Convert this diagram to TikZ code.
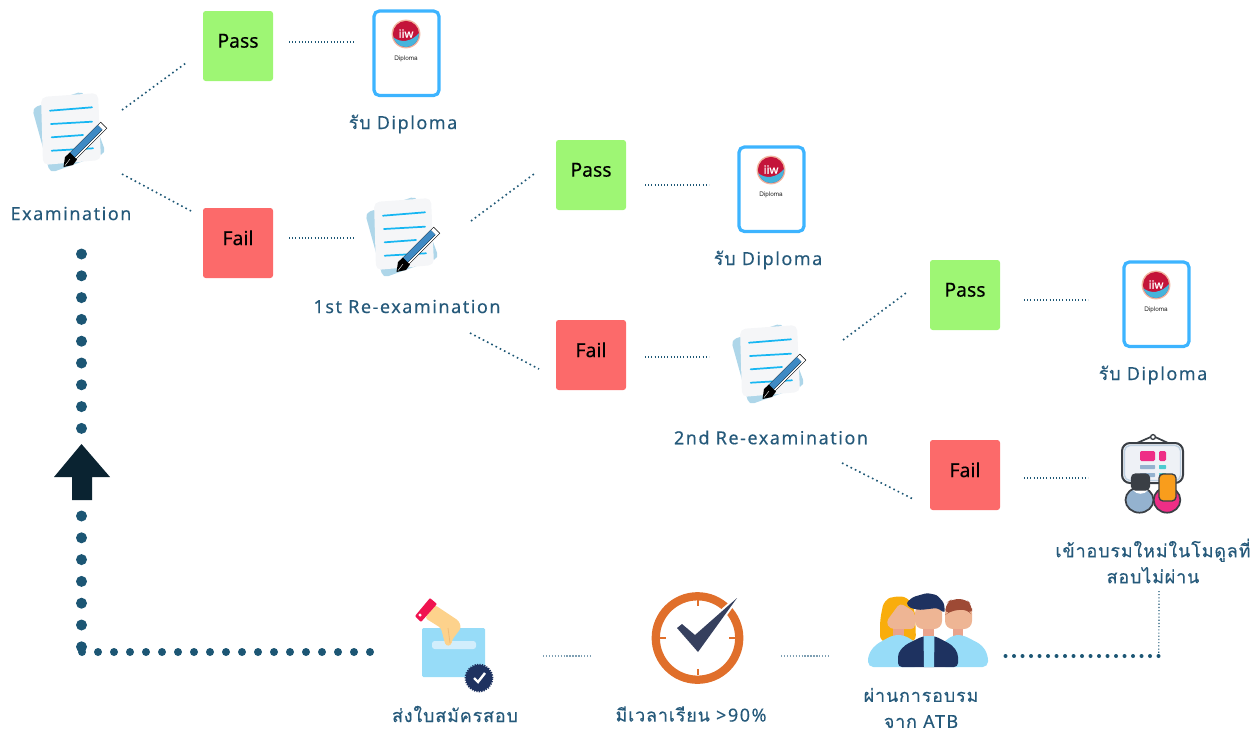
\documentclass[tikz,border=0pt]{standalone}
\usepackage{fontspec}
\newfontfamily\lomafont[Script=Thai]{Loma}
\newfontfamily\thaicap[Script=Thai,LetterSpace=4.5,FakeBold=0.35]{Loma}
\newfontfamily\latincap[LetterSpace=8.5,FakeBold=0.2]{Noto Sans}
\newfontfamily\boxfont[FakeBold=0.3]{Noto Sans}
\newfontfamily\logofont[FakeBold=1.2]{Noto Sans}
\setmainfont{Noto Sans}
\newcommand{\thaitxt}[1]{{\thaicap #1}}
\definecolor{labelblue}{HTML}{25597A}
\definecolor{dotblue}{HTML}{1C5674}
\definecolor{greyline}{HTML}{7E9FB3}
\definecolor{passgreen}{HTML}{9EF674}
\definecolor{failred}{HTML}{FC6A6A}
\definecolor{arrowdark}{HTML}{0A2331}
\definecolor{paperback}{HTML}{AED6E9}
\definecolor{paperfront}{HTML}{F5F6F8}
\definecolor{lineblue}{HTML}{16B6F2}
\definecolor{penblue}{HTML}{3F8AC4}
\definecolor{dipblue}{HTML}{3DB4FF}
\definecolor{navy}{HTML}{1E3260}
\definecolor{skyfill}{HTML}{97DCF8}
\definecolor{slotfill}{HTML}{D2EEFC}
\definecolor{handskin}{HTML}{FDD28C}
\definecolor{handshade}{HTML}{F0BC78}
\definecolor{cuffred}{HTML}{F0134F}
\definecolor{clockor}{HTML}{E06F2B}
\definecolor{checkdark}{HTML}{36405E}
\definecolor{skin}{HTML}{EEB594}
\definecolor{neck}{HTML}{E9A38C}
\definecolor{hairy}{HTML}{F9AD0C}
\definecolor{hairbr}{HTML}{9E4A35}
\definecolor{boardline}{HTML}{3A3F45}
\definecolor{boardfill}{HTML}{EEF1F6}
\definecolor{pinkm}{HTML}{EE2E86}
\definecolor{barblue}{HTML}{94B2CF}
\definecolor{tealm}{HTML}{4CCBD0}
\definecolor{orangem}{HTML}{F99D1C}
\definecolor{logored}{HTML}{C4143A}
\definecolor{logoblue}{HTML}{45B4DC}
\definecolor{logoring}{HTML}{F2B6A0}
\tikzset{
  resultbox/.style={minimum width=52.5pt,minimum height=52.5pt,rounded corners=2pt,inner sep=0pt},
  passbox/.style={resultbox,fill=passgreen},
  failbox/.style={resultbox,fill=failred},
  boxtext/.style={label={[yshift=3.9pt,font=\boxfont\fontsize{14.5}{16}\selectfont,text=black]center:#1}},
  caption/.style={font=\latincap\fontsize{13.5}{19.5}\selectfont,text=labelblue,align=center,inner sep=0pt},
  thindots/.style={dotblue,line width=.9pt,dash pattern=on .8pt off 1.6pt},
  diagdots/.style={dotblue,line width=1.2pt,dash pattern=on 1.2pt off 2.4pt},
  greydots/.style={greyline,line width=1pt,dash pattern=on 1pt off 1.2pt},
  bigdots/.style={dotblue,line width=8.25pt,line cap=round,dash pattern=on 0pt off 16.35pt},
  middots/.style={dotblue,line width=6pt,line cap=round,dash pattern=on 0pt off 12pt},
  smalldots/.style={dotblue,line width=3pt,line cap=round,dash pattern=on 0pt off 6.375pt},
  examicon/.pic={
    \fill[paperback,rounded corners=4pt] (83,91)--(32,108)--(50,173)--(106,153)--cycle;
    \fill[paperfront,rounded corners=4pt] (41,97)--(98,93)--(101,160)--(43,165)--cycle;
    \foreach \a/\b/\c/\d in {50/110.7/92/107.3,51/124/92/121.7,51.7/137.3/83/135,51.7/150.7/93/148.3}
      \draw[lineblue,line width=1.3pt,line cap=round] (\a,\b)--(\c,\d);
    \draw[black,line width=6.8pt] (72,157)--(104,125);
    \draw[white,line width=6pt] (72,157)--(103.5,125.5);
    \draw[black,line width=5.2pt] (71.2,156.2)--(100,127.4);
    \draw[penblue,line width=4.8pt] (71.2,156.2)--(100,127.4);
    \fill[black] (63.5,167)--(65,157)--(70,152.5)--(77,159.5)--(73,165)--cycle;
    \draw[white,line width=.3pt] (65,165.5)--(70,159);
  },
  diplomaicon/.pic={
    \draw[dipblue,line width=2.4pt,fill=white,rounded corners=4pt] (374,11) rectangle (439,95.5);
    \fill[logoring] (406,34) circle (10.8pt);
    \fill[logored] (406,34) circle (9.8pt);
    \begin{scope}
      \clip (392,36) .. controls (400,44) and (412,42) .. (420,32) -- (421,50) -- (391,50) -- cycle;
      \fill[logoblue] (406,34) circle (9.8pt);
    \end{scope}
    \node[font=\logofont\fontsize{8.5}{9}\selectfont,text=white,inner sep=0pt] at (406,33.5) {iiw};
    \node[font=\lomafont\fontsize{4.8}{5}\selectfont,text=black!85,inner sep=0pt] at (406,58.5) {Diploma};
  }
}
\begin{document}
\begin{tikzpicture}[x=0.75pt,y=-0.75pt]
\useasboundingbox (0,0) rectangle (1260,733);
% boxes
\node[passbox,boxtext=Pass] (pass1) at (238,46) {};
\node[failbox,boxtext=Fail] (fail1) at (238,243) {};
\node[passbox,boxtext=Pass] (pass2) at (591,175) {};
\node[failbox,boxtext=Fail] (fail2) at (591,355) {};
\node[passbox,boxtext=Pass] (pass3) at (965,295) {};
\node[failbox,boxtext=Fail] (fail3) at (965,475) {};
% icons
\pic (exam0) at (0,0) {examicon};
\pic (exam1) at (333,105) {examicon};
\pic (exam2) at (699,232) {examicon};
\pic (dip1) at (0,0) {diplomaicon};
\pic (dip2) at (365,136) {diplomaicon};
\pic (dip3) at (750,251) {diplomaicon};
% training icon
\draw[boardline,line width=1.3pt] (1137,443)--(1153,436)--(1168,443);
\draw[boardline,line width=1pt,fill=white] (1153,437) circle (1.8pt);
\draw[boardline,line width=1.5pt,fill=boardfill,rounded corners=6pt] (1122,443) rectangle (1183,483);
\draw[barblue!60!white,line width=1pt,rounded corners=4pt] (1124.5,445.5) rectangle (1180.5,480.5);
\fill[pinkm,rounded corners=1pt] (1140,451) rectangle (1155,461);
\fill[pinkm,rounded corners=1pt] (1159,451) rectangle (1166,461);
\fill[barblue,rounded corners=.5pt] (1140,465) rectangle (1155,469);
\fill[tealm,rounded corners=.5pt] (1159,465) rectangle (1166,469);
\fill[barblue,rounded corners=.5pt] (1140,473) rectangle (1155,477);
\fill[tealm,rounded corners=.5pt] (1159,473) rectangle (1166,477);
\draw[boardline,line width=1.3pt,fill=barblue] (1139.5,500) ellipse (10.5pt and 9.5pt);
\draw[boardline,line width=1.3pt,fill=pinkm] (1167,500) ellipse (10pt and 9.5pt);
\fill[white] (1133,490) .. controls (1136,495) and (1145,495) .. (1148,490) -- cycle;
\draw[boardline,line width=1pt,fill=boardline,rounded corners=3pt] (1131.5,474) rectangle (1149.5,490);
\draw[boardline,line width=1pt,fill=orangem,rounded corners=3pt] (1159,474) rectangle (1176,501);
% hand icon
\fill[skyfill,rounded corners=1pt] (422,628) rectangle (485,677);
\fill[slotfill,rounded corners=2pt] (432,641) rectangle (476,649);
\fill[handskin,rounded corners=2pt] (425,618)--(435,605)--(459,621)--(461,628)--(452,640)--(451.5,645)--(446,646)--(444,640)--(441,628)--cycle;
\draw[handshade,line width=.6pt] (448,628)--(450,643);
\fill[cuffred,rounded corners=.7pt] (430,598)--(437,604)--(421,622)--(415,616)--cycle;
\fill[white] (420,615) circle (1.3pt);
\draw[navy,line width=1.5pt,dash pattern=on .9pt off .9pt,fill=navy] (479,678) circle (10pt);
\draw[white,line width=1.8pt] (474,678)--(478,682)--(485,673);
% clock
\draw[clockor,line width=6.2pt] (697.5,638) circle (31.3pt);
\foreach \a/\b/\c/\d in {697.5/600/697.5/606,697.5/669/697.5/675,660/638/666/638,729/638/735/638}
  \draw[clockor,line width=1.5pt] (\a,\b)--(\c,\d);
\draw[white,line width=3pt] (695,635)--(737,598)--(698,652);
\fill[checkdark] (677,628)--(682,624)--(695,635)--(737,598)--(698,652)--cycle;
% people icon
\fill[hairy,rounded corners=5pt] (880,642)--(880,620)--(884,600)--(895,596)--(908,597)--(915,610)--(916,642)--cycle;
\fill[skin,rounded corners=3pt] (886,622)--(900,603)--(915,612)--(915,629)--(890,629)--cycle;
\fill[neck] (893,629) rectangle (904,636);
\fill[skyfill,rounded corners=4pt] (868,667)--(868,655)--(875,645)--(893,635)--(904,635)--(920,645)--(920,667)--cycle;
\fill[skin,rounded corners=6pt] (945,605) rectangle (972,629);
\fill[hairbr,rounded corners=5pt] (945,615)--(946,603)--(952,599)--(966,599)--(972,605)--(972,615)--(967,609)--(950,611)--cycle;
\fill[neck] (953,629) rectangle (963,636);
\fill[skyfill,rounded corners=4pt] (988,667)--(988,655)--(982,645)--(963,635)--(953,635)--(940,645)--(940,667)--cycle;
\fill[navy,rounded corners=3pt] (898,667)--(898,653)--(905,645)--(923,636)--(935,636)--(952,645)--(958,653)--(958,667)--cycle;
\fill[skyfill] (923.5,636)--(934.5,636)--(934,667)--(924,667)--cycle;
\fill[neck] (923,629) rectangle (934,636);
\fill[skin,rounded corners=6pt] (915,605) rectangle (942,629);
\fill[navy,rounded corners=2pt] (906,603)--(913,597)--(927,593)--(937,595)--(944,603)--(945,613)--(937,608)--(920,610)--(910,608)--cycle;
% arrow
\fill[arrowdark] (81.5,444)--(110,477)--(92,477)--(92,500)--(72,500)--(72,477)--(54,477)--cycle;
% captions
\node[caption] (c0) at (71,213.5) {Examination};
\node[caption] (c1) at (403,124) {\thaitxt{รับ} Diploma};
\node[caption] (c2) at (407,306.5) {1st Re-examination};
\node[caption] (c3) at (768,260) {\thaitxt{รับ} Diploma};
\node[caption] (c4) at (771,437.5) {2nd Re-examination};
\node[caption] (c5) at (1153,375) {\thaitxt{รับ} Diploma};
\node[caption] (c6) at (1153,561) {\thaitxt{เข้าอบรมใหม่ในโมดูลที่}\\\thaitxt{สอบไม่ผ่าน}};
\node[caption] (c7) at (455,714) {\thaitxt{ส่งใบสมัครสอบ}};
\node[caption] (c8) at (691,714) {\thaitxt{มีเวลาเรียน} >90\%};
\node[caption] (c9) at (921,708) {\thaitxt{ผ่านการอบรม}\\\thaitxt{จาก} ATB};
% connector ends
\coordinate (a1) at (122,110); \coordinate (b1) at (186,63);
\coordinate (a2) at (122,174); \coordinate (b2) at (191,211);
\coordinate (a3) at (289,42);  \coordinate (b3) at (354,42);
\coordinate (a4) at (289,238); \coordinate (b4) at (354,238);
\coordinate (a5) at (471,221); \coordinate (b5) at (534,174);
\coordinate (a6) at (470,333); \coordinate (b6) at (539,369);
\coordinate (a7) at (645,185); \coordinate (b7) at (709,185);
\coordinate (a8) at (645,357); \coordinate (b8) at (709,357);
\coordinate (a9) at (843,340); \coordinate (b9) at (906,293);
\coordinate (a10) at (842,463); \coordinate (b10) at (913,499);
\coordinate (a11) at (1024,300); \coordinate (b11) at (1088,300);
\coordinate (a12) at (1024,478); \coordinate (b12) at (1088,478);
\coordinate (a13) at (543,656); \coordinate (b13) at (591,656);
\coordinate (a14) at (781,656); \coordinate (b14) at (830,656);
\coordinate (r1) at (1005.5,656); \coordinate (r2) at (1158.8,656); \coordinate (r3) at (1159,591);
\coordinate (v1) at (81.5,254); \coordinate (v2) at (81.5,435);
\coordinate (v3) at (81.5,516); \coordinate (v4) at (81.5,652);
\coordinate (h1) at (82,652); \coordinate (h2) at (374,652);
\foreach \n in {1,2,5,6,9,10} \draw[diagdots] (a\n)--(b\n);
\foreach \n in {3,4,7,8,11,12} \draw[thindots] (a\n)--(b\n);
\foreach \n in {13,14} \draw[greydots] (a\n)--(b\n);
\draw[smalldots] (r1)--(r2);
\draw[thindots] (r2)--(r3);
\draw[bigdots] (v1)--(v2);
\draw[bigdots] (v3)--(v4);
\draw[middots] (h1)--(h2);
\end{tikzpicture}
\end{document}
